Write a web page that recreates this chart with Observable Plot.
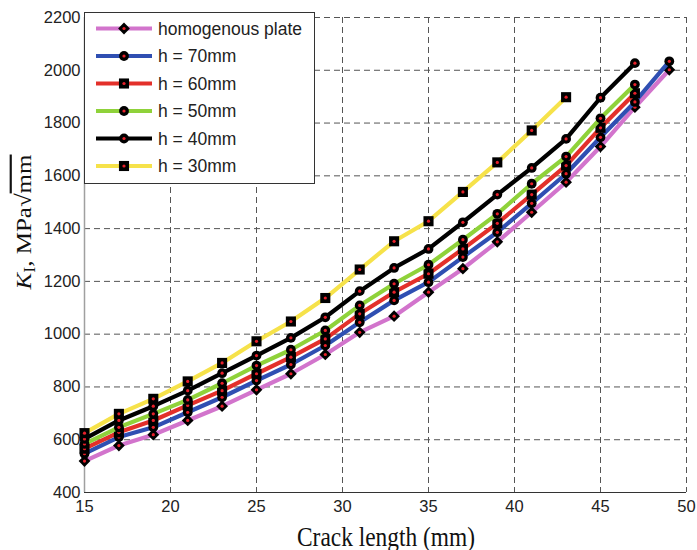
<!DOCTYPE html>
<html>
<head>
<meta charset="utf-8">
<script src="https://cdn.jsdelivr.net/npm/d3@7"></script>
<script src="https://cdn.jsdelivr.net/npm/@observablehq/plot@0.6"></script>
<style>
  html, body { margin: 0; padding: 0; background: #fff; }
</style>
</head>
<body>
<div id="chart"></div>
<script>
// ---- data ----
const crackLength = [15,17,19,21,23,25,27,29,31,33,35,37,39,41,43,45,47,49];
const homogenous = [519,578,619,673,727,789,850,923,1007,1068,1159,1248,1350,1462,1576,1711,1860,2002];
const h70 = [547,610,647,704,761,824,885,957,1045,1128,1197,1292,1386,1496,1608,1746,1880,2034];
const h60 = [566,628,673,730,786,850,913,982,1077,1159,1229,1323,1420,1529,1639,1782,1913];
const h50 = [584,647,698,751,814,881,941,1014,1109,1191,1263,1358,1456,1570,1673,1818,1946];
const h40 = [603,673,727,786,852,919,986,1064,1163,1251,1323,1424,1529,1630,1740,1896,2027];
const h30 = [625,698,755,821,891,973,1048,1137,1245,1352,1428,1539,1651,1772,1898];
const seriesNames = ["homogenous plate","h = 70mm","h = 60mm","h = 50mm","h = 40mm","h = 30mm"];
const seriesColors = ["#d274cc","#2f4fb2","#e3302a","#8fd23a","#000000","#f6e24a"];
const seriesSymbols = ["diamond2","circle","square","circle","circle","square"];
const xTicks = [15,20,25,30,35,40,45,50];
const yTicks = [400,600,800,1000,1200,1400,1600,1800,2000,2200];

const seriesValues = [homogenous,h70,h60,h50,h40,h30];
const series = seriesNames.map((name,i) => ({
  name, color: seriesColors[i], symbol: seriesSymbols[i],
  data: seriesValues[i].map((v,j) => ({x: crackLength[j], y: v}))
}));
const symR = {diamond2: 5.3, circle: 4.9, square: 5.7};

const marks = [
  Plot.gridX(xTicks, {stroke: "#555", strokeOpacity: 1, strokeDasharray: "6,4", strokeWidth: 1}),
  Plot.gridY(yTicks, {stroke: "#555", strokeOpacity: 1, strokeDasharray: "6,4", strokeWidth: 1}),
  Plot.ruleX([15], {stroke: "#a0a0a0", strokeWidth: 1.5}),
  Plot.ruleY([400], {stroke: "#333", strokeWidth: 1.2}),
  Plot.axisX(xTicks, {tickSize: 0, tickPadding: 8, fill: "#222", label: null, tickFormat: "d", fontSize: 16.5}),
  Plot.axisY(yTicks, {tickSize: 0, tickPadding: 4, fill: "#222", label: null, tickFormat: "d", fontSize: 16.5})
];
for (const s of series) {
  marks.push(Plot.line(s.data, {x: "x", y: "y", stroke: s.color, strokeWidth: 4.2}));
  marks.push(Plot.dot(s.data, {x: "x", y: "y", symbol: s.symbol, r: symR[s.symbol], fill: "#000", stroke: "none"}));
  marks.push(Plot.dot(s.data, {x: "x", y: "y", r: 1.6, fill: "#e8202a", stroke: "none"}));
}

const svg = Plot.plot({
  width: 697,
  height: 550,
  marginLeft: 84,
  marginRight: 11,
  marginTop: 17,
  marginBottom: 58,
  style: {fontFamily: "'Liberation Sans', Arial, sans-serif", fontSize: "16.5px", background: "#fff"},
  x: {domain: [15, 50]},
  y: {domain: [400, 2200]},
  marks
});
document.getElementById("chart").appendChild(svg);

const root = d3.select(svg);

// x label
root.append("text")
  .attr("transform", "translate(386,546) scale(0.867,1)")
  .attr("text-anchor", "middle")
  .style("font-family", "'Liberation Serif', 'Times New Roman', serif")
  .style("font-size", "27px")
  .attr("fill", "#111")
  .text("Crack length (mm)");

// y label
const yl = root.append("text")
  .attr("transform", "translate(31,222) scale(0.87,1) rotate(-90)")
  .attr("text-anchor", "middle")
  .style("font-family", "'Liberation Serif', 'Times New Roman', serif")
  .style("font-size", "25px")
  .attr("fill", "#111");
yl.append("tspan").style("font-style", "italic").text("K");
yl.append("tspan").attr("dy", 5).style("font-size", "18px").text("I");
yl.append("tspan").attr("dy", -5).text(", MPa");
yl.append("tspan").text("\u221A");
yl.append("tspan").style("text-decoration", "overline").text("mm");

// legend
const lg = root.append("g");
lg.append("rect")
  .attr("x", 84.5).attr("y", 12.5).attr("width", 230).attr("height", 171)
  .attr("fill", "#fff").attr("stroke", "#333").attr("stroke-width", 1);
const rowY = [28.5, 56, 83.5, 111, 138.5, 166];
series.forEach((s, i) => {
  const y = rowY[i];
  lg.append("line").attr("x1", 96).attr("x2", 152).attr("y1", y).attr("y2", y)
    .attr("stroke", s.color).attr("stroke-width", 4.2);
  const area = Math.PI * symR[s.symbol] ** 2;
  const sym = s.symbol === "circle" ? d3.symbolCircle : s.symbol === "square" ? d3.symbolSquare : d3.symbolDiamond2;
  lg.append("path").attr("d", d3.symbol(sym, area)()).attr("transform", `translate(124,${y})`).attr("fill", "#000");
  lg.append("circle").attr("cx", 124).attr("cy", y).attr("r", 1.6).attr("fill", "#e8202a");
  lg.append("text").attr("x", 158).attr("y", y).attr("dy", "0.35em")
    .attr("text-anchor", "start")
    .style("font-family", "'Liberation Sans', Arial, sans-serif").style("font-size", "17.5px")
    .attr("fill", "#222").text(s.name);
});
</script>
</body>
</html>
